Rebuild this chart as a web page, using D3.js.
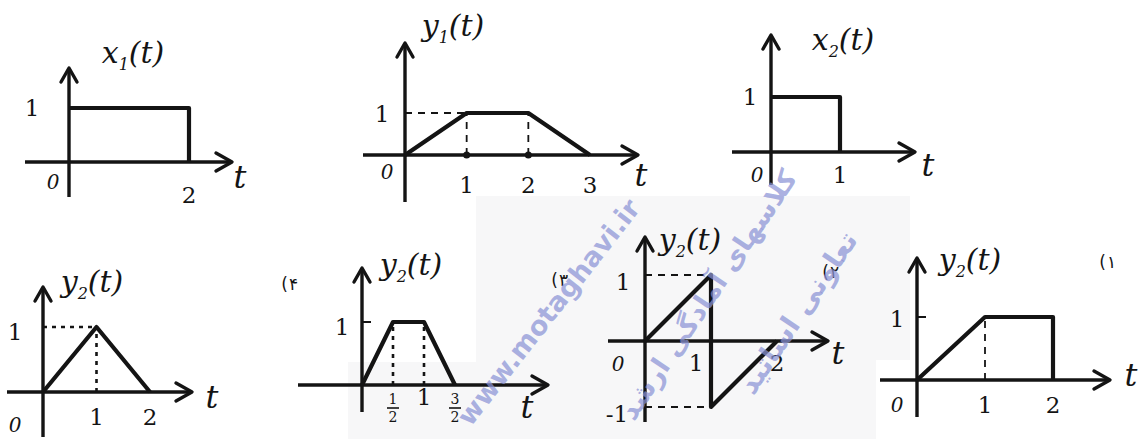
<!DOCTYPE html>
<html>
<head>
<meta charset="utf-8">
<script src="https://cdn.jsdelivr.net/npm/d3@7"></script>
<style>
  body { margin: 0; background: #fff; }
</style>
</head>
<body>
<svg id="chart"></svg>
<script>
const width = 1144;
const height = 439;

// signal samples [t, value]
const x1Points = [[0, 1], [2, 1], [2, 0]];
const y1Points = [[0, 0], [1, 1], [2, 1], [3, 0]];
const x2Points = [[0, 1], [1, 1], [1, 0]];
const y2Points = [[0, 0], [1, 1], [2, 0]];
const opt4Points = [[0, 0], [0.5, 1], [1, 1], [1.5, 0]];
const opt3Points = [[0, 0], [1, 1], [1, -1], [2, 0]];
const opt2Points = [[0, 0], [1, 1], [2, 1], [2, 0]];

// dashed helper lines, each [from, to]
const y1Guides = [[[0, 1], [1, 1]], [[1, 0], [1, 1]], [[2, 0], [2, 1]]];
const y2Guides = [[[0, 1], [1, 1]], [[1, 0], [1, 1]]];
const opt4Guides = [[[0.5, 0], [0.5, 1]], [[1, 0], [1, 1]]];
const opt3Guides = [[[0, 1], [1, 1]], [[0, -1], [1, -1]]];
const opt2Guides = [[[1, 0], [1, 1]]];

// tick values and labels
const x1Ticks = [2];
const y1Ticks = [1, 2, 3];
const x2Ticks = [1];
const y2Ticks = [1, 2];
const opt4Ticks = [0.5, 1, 1.5];
const opt4TickLabels = [["1", "2"], "1", ["3", "2"]];
const opt3Ticks = [1, 2];
const opt2Ticks = [1, 2];
const opt3Levels = [1, -1];
const opt3LevelLabels = ["1", "-1"];

var svg = d3.select("#chart")
    .attr("width", width)
    .attr("height", height)
    .attr("viewBox", `0 0 ${width} ${height}`);

const ink = "#141414";
const hand = "'DejaVu Serif', serif";

// faint scan background behind the watermark
svg.append("path")
    .attr("d", "M476,196 L910,196 L910,360 L876,360 L876,439 L348,439 L348,362 L476,362 Z")
    .attr("fill", "#f7f7f8");

const panels = [
  { name: "x", sub: "1", title: [133, 63], pts: x1Points, guides: [], ticks: x1Ticks,
    xd: [0, 2], xr: [69, 189], yd: [0, 1], yr: [162, 108],
    axL: 25, axR: 232, axB: 197, axT: 68, tickDy: 41, zero: [-16, 27], oneDx: -37, oneDy: 8, tPos: [240, 188] },
  { name: "y", sub: "1", title: [453, 36], pts: y1Points, guides: y1Guides, ticks: y1Ticks, dots: true,
    xd: [0, 3], xr: [405, 590], yd: [0, 1], yr: [155, 113],
    axL: 363, axR: 638, axB: 202, axT: 43, tickDy: 38, zero: [-18, 24], oneDx: -23, oneDy: 9, tPos: [641, 186] },
  { name: "x", sub: "2", title: [843, 50], pts: x2Points, guides: [], ticks: x2Ticks,
    xd: [0, 1], xr: [771, 840], yd: [0, 1], yr: [152, 97],
    axL: 732, axR: 915, axB: 185, axT: 35, tickDy: 31, zero: [-14, 30], oneDx: -21, oneDy: 8, tPos: [928, 176] },
  { name: "y", sub: "2", title: [92, 292], pts: y2Points, guides: y2Guides, ticks: y2Ticks, dotted: true,
    xd: [0, 2], xr: [43, 150], yd: [0, 1], yr: [392, 327],
    axL: 7, axR: 192, axB: 437, axT: 287, tickDy: 33, zero: [-28, 40], oneDx: -28, oneDy: 13, tPos: [212, 408] },
  { name: "y", sub: "2", title: [411, 275], pts: opt4Points, guides: opt4Guides, ticks: opt4Ticks, tickLabels: opt4TickLabels, dotted: true,
    xd: [0, 1.5], xr: [362, 455], yd: [0, 1], yr: [385, 322], mark: true,
    axL: 298, axR: 548, axB: 412, axT: 268, tickDy: 20, oneDx: -20, oneDy: 13, tPos: [527, 418], choice: ["۴", 292, 290] },
  { name: "y", sub: "2", title: [690, 250], pts: opt3Points, guides: opt3Guides, ticks: opt3Ticks,
    levels: opt3Levels, levelLabels: opt3LevelLabels,
    xd: [0, 2], xr: [645, 777], yd: [-1, 1], yr: [407, 275],
    axL: 608, axR: 828, axB: 422, axT: 237, tickDy: 30, zero: [-27, 30], oneDx: -22, oneDy: 15, tickDx: [-15, 0], tPos: [838, 364], choice: ["۳", 562, 286] },
  { name: "y", sub: "2", title: [970, 270], pts: opt2Points, guides: opt2Guides, ticks: opt2Ticks, mark: true,
    xd: [0, 2], xr: [917, 1053], yd: [0, 1], yr: [380, 317],
    axL: 880, axR: 1110, axB: 417, axT: 258, tickDy: 33, zero: [-20, 32], oneDx: -20, oneDy: 10, tPos: [1131, 386], choice: ["۲", 833, 278] }
];

const line = d3.line();

// persian option number "(n" written as two pieces to keep the visual order
function choiceLabel(sel, txt, cx, cy) {
  sel.append("text").attr("x", cx - 4).attr("y", cy)
      .attr("text-anchor", "end").attr("font-family", "'DejaVu Sans', sans-serif")
      .attr("font-size", 17).attr("fill", ink).text("(");
  sel.append("text").attr("x", cx - 3).attr("y", cy)
      .attr("text-anchor", "start").attr("font-family", "'DejaVu Sans', sans-serif")
      .attr("font-size", 17).attr("fill", ink).text(txt);
}

panels.forEach(p => {
  const x = d3.scaleLinear().domain(p.xd).range(p.xr);
  const y = d3.scaleLinear().domain(p.yd).range(p.yr);
  const ox = x(0), oy = y(0);
  const g = svg.append("g");

  // axes
  g.append("path").attr("d", line([[p.axL, oy], [p.axR, oy]]))
      .attr("stroke", ink).attr("stroke-width", 3.4).attr("fill", "none");
  g.append("path").attr("d", line([[ox, p.axB], [ox, p.axT]]))
      .attr("stroke", ink).attr("stroke-width", 3.4).attr("fill", "none");
  // arrow heads
  g.append("path").attr("d", line([[p.axR - 16, oy - 9], [p.axR, oy], [p.axR - 16, oy + 9]]))
      .attr("stroke", ink).attr("stroke-width", 3.4).attr("fill", "none")
      .attr("stroke-linejoin", "round").attr("stroke-linecap", "round");
  g.append("path").attr("d", line([[ox - 8, p.axT + 14], [ox, p.axT], [ox + 8, p.axT + 14]]))
      .attr("stroke", ink).attr("stroke-width", 3.4).attr("fill", "none")
      .attr("stroke-linejoin", "round").attr("stroke-linecap", "round");

  // dashed guides
  g.selectAll(".guide").data(p.guides).enter().append("path")
      .attr("d", d => line(d.map(q => [x(q[0]), y(q[1])])))
      .attr("stroke", ink)
      .attr("stroke-width", p.dotted ? 2.6 : 1.8)
      .attr("stroke-dasharray", p.dotted ? "4,5" : "7,6")
      .attr("fill", "none");

  // signal
  g.append("path")
      .attr("d", line(p.pts.map(q => [x(q[0]), y(q[1])])))
      .attr("stroke", ink).attr("stroke-width", 4.2)
      .attr("stroke-linejoin", "round").attr("fill", "none");

  if (p.mark) {
    g.append("path").attr("d", line([[ox, y(1)], [ox + 9, y(1)]]))
        .attr("stroke", ink).attr("stroke-width", 2);
  }
  if (p.dots) {
    g.selectAll(".dot").data([1, 2]).enter().append("circle")
        .attr("cx", d => x(d)).attr("cy", oy).attr("r", 3.5).attr("fill", ink);
  }

  // title  e.g. x1(t)
  const tt = g.append("text").attr("x", p.title[0]).attr("y", p.title[1])
      .attr("text-anchor", "middle").attr("font-family", hand)
      .attr("font-style", "italic").attr("font-size", 30).attr("fill", ink);
  tt.append("tspan").text(p.name);
  tt.append("tspan").attr("font-size", 16).attr("dy", 7).text(p.sub);
  tt.append("tspan").attr("dy", -7).text("(t)");

  // tick labels on t axis
  p.ticks.forEach((t, i) => {
    const lab = p.tickLabels ? p.tickLabels[i] : String(t);
    const dx = p.tickDx ? p.tickDx[i] : 0;
    if (Array.isArray(lab)) {
      g.append("text").attr("x", x(t)).attr("y", oy + 19).attr("text-anchor", "middle")
          .attr("font-family", hand).attr("font-size", 14).attr("fill", ink).text(lab[0]);
      g.append("path").attr("d", line([[x(t) - 6, oy + 23], [x(t) + 6, oy + 23]]))
          .attr("stroke", ink).attr("stroke-width", 1.6);
      g.append("text").attr("x", x(t)).attr("y", oy + 37).attr("text-anchor", "middle")
          .attr("font-family", hand).attr("font-size", 14).attr("fill", ink).text(lab[1]);
    } else {
      g.append("text").attr("x", x(t) + dx).attr("y", oy + p.tickDy).attr("text-anchor", "middle")
          .attr("font-family", hand).attr("font-size", 23).attr("fill", ink).text(lab);
    }
  });

  // value labels on the vertical axis
  const levels = p.levels || [1];
  const levelLabels = p.levelLabels || ["1"];
  levels.forEach((v, i) => {
    const extra = v < 0 ? -6 : 0;
    g.append("text").attr("x", ox + p.oneDx + extra).attr("y", y(v) + p.oneDy)
        .attr("text-anchor", "middle").attr("font-family", hand)
        .attr("font-size", 23).attr("fill", ink).text(levelLabels[i]);
  });

  if (p.zero) {
    g.append("text").attr("x", ox + p.zero[0]).attr("y", oy + p.zero[1])
        .attr("text-anchor", "middle").attr("font-family", hand)
        .attr("font-style", "italic").attr("font-size", 20).attr("fill", ink).text("0");
  }

  g.append("text").attr("x", p.tPos[0]).attr("y", p.tPos[1])
      .attr("text-anchor", "middle").attr("font-family", hand)
      .attr("font-style", "italic").attr("font-size", 32).attr("fill", ink).text("t");

  if (p.choice) choiceLabel(g, p.choice[0], p.choice[1], p.choice[2]);
});

choiceLabel(svg, "۱", 1110, 268);

// watermark
const wm = svg.append("g").attr("fill", "#8b93d6").attr("fill-opacity", 0.72)
    .attr("font-family", "'DejaVu Sans', sans-serif").attr("font-weight", "bold");
wm.append("text").attr("transform", "translate(556,318) rotate(-52)")
    .attr("text-anchor", "middle").attr("font-size", 27).text("www.motaghavi.ir");
wm.append("text").attr("transform", "translate(716,300) rotate(-56)")
    .attr("text-anchor", "middle").attr("font-size", 27).text("کلاسهای آمادگی ارشد");
wm.append("text").attr("transform", "translate(806,318) rotate(-56)")
    .attr("text-anchor", "middle").attr("font-size", 28).text("تعاونی اساتید");
</script>
</body>
</html>
